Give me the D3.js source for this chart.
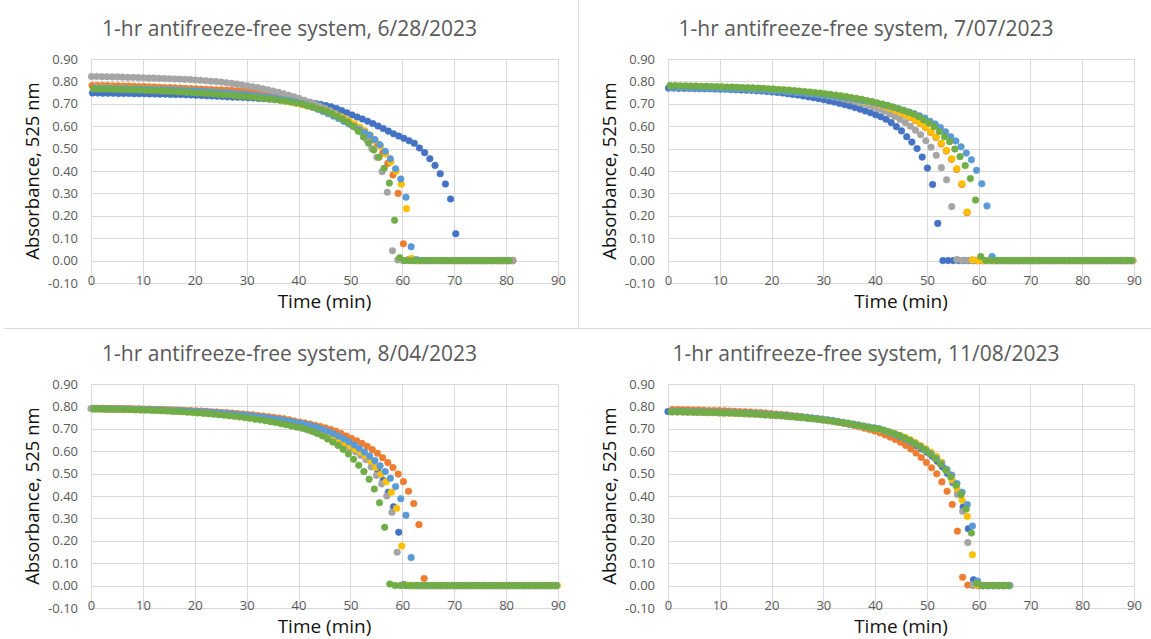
<!DOCTYPE html>
<html>
<head>
<meta charset="utf-8">
<script src="https://cdn.jsdelivr.net/npm/d3@7"></script>
<style>
  body { margin: 0; background: #fff; }
  svg { display: block; }
  text { font-family: "Open Sans", "Noto Sans", sans-serif; }
</style>
</head>
<body>
<svg id="chart" width="1151" height="639"></svg>
<script>
// Office palette, one colour per replicate run (drawn in this order, last on top)
const seriesColors = ["#4472C4", "#ED7D31", "#A5A5A5", "#FFC000", "#5B9BD5", "#70AD47"];

const panelTitles = [
  "1-hr antifreeze-free system, 6/28/2023",
  "1-hr antifreeze-free system, 7/07/2023",
  "1-hr antifreeze-free system, 8/04/2023",
  "1-hr antifreeze-free system, 11/08/2023"
];
const xAxisTitle = "Time (min)";
const yAxisTitle = "Absorbance, 525 nm";

const xTicks = [0, 10, 20, 30, 40, 50, 60, 70, 80, 90];
const xTickLabels = ["0", "10", "20", "30", "40", "50", "60", "70", "80", "90"];
const yTicks = [-0.1, 0, 0.1, 0.2, 0.3, 0.4, 0.5, 0.6, 0.7, 0.8, 0.9];
const yTickLabels = ["-0.10", "0.00", "0.10", "0.20", "0.30", "0.40", "0.50", "0.60", "0.70", "0.80", "0.90"];

// Readings are logged once a minute; each run starts at its own offset (min)
const SAMPLE_MIN = 1;

// ---- 6/28/2023 ----
const jun28Start = [0.3, 0.2, 0.1, 0.8, 0.7, 0.5];
const jun28Blue = [
  .748,.748,.747,.747,.747,.746,.746,.746,.745,.745,
  .745,.744,.744,.743,.743,.742,.741,.741,.740,.739,
  .738,.737,.736,.735,.734,.733,.731,.730,.729,.728,
  .727,.726,.724,.723,.721,.720,.718,.717,.715,.714,
  .712,.709,.705,.701,.697,.692,.687,.679,.670,.660,
  .650,.641,.632,.622,.612,.601,.590,.578,.566,.556,
  .546,.535,.524,.503,.482,.455,.425,.388,.342,.275,
  .120,0,0,0,0,0,0,0,0,0,0,0];
const jun28Orange = [
  .782,.782,.781,.781,.780,.780,.779,.779,.778,.777,
  .777,.776,.775,.774,.773,.772,.771,.770,.769,.768,
  .767,.766,.765,.764,.763,.762,.761,.760,.758,.757,
  .754,.751,.748,.745,.741,.737,.732,.727,.721,.715,
  .708,.701,.693,.685,.676,.667,.657,.646,.634,.621,
  .607,.592,.576,.559,.540,.520,.480,.434,.382,.300,
  .075,.005,0,0,0,0,0,0,0,0,
  0,0,0,0,0,0,0,0,0,0,0,0];
const jun28Gray = [
  .822,.822,.821,.821,.820,.820,.819,.818,.818,.817,
  .816,.815,.815,.814,.813,.812,.811,.810,.809,.808,
  .806,.805,.803,.801,.799,.797,.794,.791,.788,.784,
  .780,.776,.772,.767,.762,.757,.751,.745,.738,.731,
  .724,.716,.708,.699,.690,.680,.669,.657,.644,.630,
  .612,.594,.573,.540,.500,.461,.397,.305,.044,.003,
  0,0,0,0,0,0,0,0,0,0,
  0,0,0,0,0,0,0,0,0,0,0,0];
const jun28Yellow = [
  .772,.772,.771,.771,.770,.770,.769,.769,.768,.767,
  .767,.766,.765,.764,.763,.762,.761,.760,.759,.757,
  .756,.755,.753,.752,.750,.748,.746,.744,.742,.739,
  .737,.734,.731,.727,.724,.720,.716,.711,.706,.701,
  .695,.689,.683,.676,.669,.661,.653,.644,.635,.623,
  .610,.596,.580,.560,.535,.510,.476,.440,.399,.341,
  .232,.010,0,0,0,0,0,0,0,0,
  0,0,0,0,0,0,0,0,0,0,0];
const jun28LightBlue = [
  .770,.770,.770,.769,.769,.768,.768,.767,.767,.766,
  .766,.765,.764,.764,.763,.762,.761,.760,.759,.758,
  .757,.756,.754,.753,.751,.750,.748,.746,.744,.742,
  .739,.737,.734,.731,.728,.724,.720,.716,.712,.706,
  .700,.693,.685,.676,.666,.656,.645,.634,.622,.610,
  .598,.586,.573,.560,.540,.517,.488,.455,.410,.364,
  .283,.062,.005,0,0,0,0,0,0,0,
  0,0,0,0,0,0,0,0,0,0,0];
const jun28Green = [
  .766,.766,.765,.765,.764,.764,.763,.763,.762,.761,
  .760,.759,.758,.757,.756,.755,.754,.753,.751,.750,
  .748,.747,.745,.744,.742,.740,.739,.737,.735,.733,
  .731,.729,.726,.724,.721,.718,.715,.712,.708,.704,
  .700,.694,.688,.681,.673,.665,.655,.644,.632,.618,
  .600,.578,.552,.524,.494,.461,.412,.346,.180,.013,
  0,0,0,0,0,0,0,0,0,0,
  0,0,0,0,0,0,0,0,0,0,0];

// ---- 7/07/2023 ----
const jul07Start = [0.1, 0.75, 0.8, 0.8, 0.6, 0.4];
const jul07Blue = [
  .770,.770,.769,.769,.769,.768,.768,.767,.767,.766,
  .765,.765,.764,.763,.762,.761,.760,.758,.757,.755,
  .753,.751,.748,.745,.742,.739,.735,.731,.727,.723,
  .718,.713,.708,.702,.696,.690,.683,.676,.668,.660,
  .651,.642,.631,.616,.598,.579,.553,.529,.500,.462,
  .413,.340,.166,0,0,0,0,0,0,0,
  0,0,0,0,0,0,0,0,0,0,
  0,0,0,0,0,0,0,0,0,0,
  0,0,0,0,0,0,0,0,0,0];
const jul07Orange = [
  .777,.777,.776,.776,.775,.775,.774,.774,.773,.773,
  .772,.771,.770,.769,.768,.767,.766,.765,.764,.762,
  .761,.759,.757,.755,.753,.751,.749,.746,.744,.741,
  .738,.735,.731,.727,.723,.719,.714,.709,.704,.699,
  .693,.686,.678,.669,.660,.650,.639,.626,.611,.594,
  .572,.550,.521,.489,.452,.407,.340,.214,.003,0,
  0,0,0,0,0,0,0,0,0,0,
  0,0,0,0,0,0,0,0,0,0,
  0,0,0,0,0,0,0,0,0,0];
const jul07Gray = [
  .775,.775,.774,.774,.774,.773,.773,.772,.772,.771,
  .771,.770,.769,.768,.767,.766,.765,.764,.763,.761,
  .760,.758,.756,.754,.752,.750,.747,.745,.742,.739,
  .735,.731,.727,.722,.717,.712,.706,.700,.693,.685,
  .676,.666,.655,.643,.630,.616,.600,.582,.562,.535,
  .506,.470,.415,.361,.241,.005,0,0,0,0,
  0,0,0,0,0,0,0,0,0,0,
  0,0,0,0,0,0,0,0,0,0,
  0,0,0,0,0,0,0,0,0,0];
const jul07Yellow = [
  .778,.778,.777,.777,.776,.776,.775,.775,.774,.774,
  .773,.772,.771,.770,.769,.768,.767,.766,.765,.763,
  .762,.760,.758,.756,.754,.752,.750,.747,.745,.742,
  .739,.736,.732,.729,.725,.721,.716,.711,.706,.701,
  .695,.688,.680,.671,.662,.652,.641,.628,.613,.596,
  .575,.553,.524,.492,.455,.410,.343,.217,.003,0,
  0,0,0,0,0,0,0,0,0,0,
  0,0,0,0,0,0,0,0,0,0,
  0,0,0,0,0,0,0,0,0,0];
const jul07LightBlue = [
  .772,.772,.772,.771,.771,.770,.770,.769,.769,.768,
  .768,.767,.766,.766,.765,.764,.763,.762,.761,.759,
  .758,.757,.755,.753,.751,.749,.747,.745,.743,.740,
  .738,.735,.732,.729,.725,.722,.718,.714,.710,.705,
  .700,.695,.690,.684,.677,.670,.663,.655,.646,.636,
  .622,.610,.594,.575,.553,.534,.508,.480,.450,.403,
  .343,.244,.018,0,0,0,0,0,0,0,
  0,0,0,0,0,0,0,0,0,0,
  0,0,0,0,0,0,0,0,0,0];
const jul07Green = [
  .781,.781,.780,.780,.779,.779,.778,.778,.777,.777,
  .776,.775,.775,.774,.773,.772,.771,.770,.769,.767,
  .766,.764,.763,.761,.759,.757,.755,.753,.750,.748,
  .745,.742,.739,.736,.732,.728,.724,.720,.715,.710,
  .705,.699,.693,.686,.679,.671,.663,.654,.642,.628,
  .614,.598,.576,.553,.531,.498,.464,.424,.366,.270,
  .018,0,0,0,0,0,0,0,0,0,
  0,0,0,0,0,0,0,0,0,0,
  0,0,0,0,0,0,0,0,0,0];

// ---- 8/04/2023 ----
const aug04Start = [0.3, 0.2, 0.0, 0.9, 0.7, 0.6];
const aug04Blue = [
  .789,.789,.789,.788,.788,.788,.787,.787,.786,.786,
  .785,.785,.784,.783,.782,.781,.780,.779,.778,.777,
  .776,.774,.773,.771,.769,.767,.765,.763,.761,.758,
  .755,.752,.749,.745,.741,.737,.732,.727,.722,.717,
  .712,.706,.699,.692,.684,.675,.665,.655,.644,.632,
  .619,.605,.590,.570,.545,.512,.470,.417,.352,.238,
  .005,0,0,0,0,0,0,0,0,0,
  0,0,0,0,0,0,0,0,0,0,
  0,0,0,0,0,0,0,0,0,0];
const aug04Orange = [
  .792,.792,.792,.791,.791,.791,.790,.790,.789,.789,
  .788,.788,.787,.786,.786,.785,.784,.783,.782,.781,
  .780,.779,.778,.776,.775,.773,.772,.770,.768,.766,
  .764,.762,.759,.757,.754,.751,.748,.745,.740,.735,
  .730,.726,.721,.716,.710,.704,.697,.689,.679,.668,
  .657,.646,.635,.622,.607,.591,.571,.549,.527,.498,
  .464,.421,.366,.272,.032,0,0,0,0,0,
  0,0,0,0,0,0,0,0,0,0,
  0,0,0,0,0,0,0,0,0,0];
const aug04Gray = [
  .790,.790,.789,.789,.789,.788,.788,.787,.787,.786,
  .786,.785,.784,.783,.782,.781,.780,.779,.778,.777,
  .775,.774,.772,.770,.768,.766,.764,.762,.759,.757,
  .754,.751,.748,.744,.740,.736,.731,.725,.719,.714,
  .708,.701,.694,.686,.678,.669,.659,.648,.636,.624,
  .611,.597,.581,.562,.530,.492,.454,.400,.327,.149,
  .003,0,0,0,0,0,0,0,0,0,
  0,0,0,0,0,0,0,0,0,0,
  0,0,0,0,0,0,0,0,0,0];
const aug04Yellow = [
  .789,.789,.788,.788,.788,.787,.787,.786,.786,.785,
  .785,.784,.783,.782,.781,.780,.779,.778,.777,.775,
  .774,.772,.771,.769,.767,.765,.763,.760,.758,.755,
  .752,.749,.746,.742,.739,.735,.731,.726,.721,.716,
  .711,.705,.698,.691,.683,.672,.662,.651,.638,.624,
  .610,.596,.580,.555,.527,.498,.464,.417,.345,.177,
  .003,0,0,0,0,0,0,0,0,0,
  0,0,0,0,0,0,0,0,0,0,
  0,0,0,0,0,0,0,0,0,0];
const aug04LightBlue = [
  .790,.790,.790,.789,.789,.789,.788,.788,.787,.787,
  .786,.786,.785,.784,.783,.782,.781,.780,.779,.778,
  .777,.776,.774,.773,.771,.769,.767,.765,.763,.761,
  .758,.756,.753,.750,.747,.743,.740,.736,.732,.727,
  .723,.718,.712,.705,.697,.688,.678,.667,.655,.642,
  .628,.613,.596,.578,.558,.535,.509,.479,.442,.388,
  .314,.125,0,0,0,0,0,0,0,0,
  0,0,0,0,0,0,0,0,0,0,
  0,0,0,0,0,0,0,0,0,0];
const aug04Green = [
  .789,.789,.788,.788,.787,.787,.786,.786,.785,.784,
  .784,.783,.782,.781,.780,.778,.777,.776,.774,.773,
  .771,.769,.767,.765,.763,.761,.758,.756,.753,.750,
  .747,.743,.740,.736,.732,.728,.723,.718,.713,.708,
  .704,.697,.689,.679,.668,.655,.641,.626,.608,.588,
  .564,.537,.509,.475,.431,.370,.260,.007,0,0,
  0,0,0,0,0,0,0,0,0,0,
  0,0,0,0,0,0,0,0,0,0,
  0,0,0,0,0,0,0,0,0,0];

// ---- 11/08/2023 ----
const nov08Start = [0.0, 0.9, 0.9, 0.8, 0.8, 0.6];
const nov08Blue = [
  .777,.777,.777,.776,.776,.775,.775,.774,.774,.773,
  .772,.772,.771,.770,.769,.768,.767,.766,.764,.763,
  .761,.760,.758,.756,.754,.752,.750,.747,.745,.742,
  .739,.736,.732,.729,.725,.721,.717,.712,.708,.704,
  .700,.694,.687,.679,.671,.662,.651,.638,.624,.610,
  .595,.578,.555,.530,.500,.460,.414,.351,.254,.026,
  0,0,0,0,0,0,0];
const nov08Orange = [
  .786,.786,.785,.785,.784,.784,.783,.782,.782,.781,
  .780,.779,.778,.777,.776,.775,.773,.772,.770,.768,
  .766,.764,.762,.759,.757,.754,.751,.748,.745,.742,
  .738,.734,.730,.726,.721,.715,.709,.703,.697,.690,
  .682,.673,.663,.652,.640,.626,.610,.592,.572,.550,
  .526,.499,.463,.421,.362,.243,.037,.003,0,0,
  0,0,0,0,0,0];
const nov08Gray = [
  .775,.775,.775,.774,.774,.773,.773,.772,.772,.771,
  .770,.770,.769,.768,.767,.766,.765,.764,.762,.761,
  .759,.758,.756,.754,.752,.750,.748,.745,.743,.740,
  .737,.734,.730,.727,.723,.719,.715,.710,.706,.701,
  .696,.690,.684,.677,.669,.658,.646,.633,.619,.605,
  .590,.573,.550,.515,.468,.407,.332,.192,.003,0,
  0,0,0,0,0,0];
const nov08Yellow = [
  .776,.776,.776,.775,.775,.774,.774,.773,.773,.772,
  .771,.771,.770,.769,.768,.767,.766,.765,.763,.762,
  .760,.759,.757,.755,.753,.751,.749,.746,.744,.741,
  .738,.735,.731,.728,.724,.720,.716,.711,.707,.702,
  .697,.691,.685,.678,.670,.662,.651,.639,.625,.611,
  .595,.577,.550,.515,.475,.434,.381,.309,.138,.003,
  0,0,0,0,0,0];
const nov08LightBlue = [
  .778,.778,.778,.777,.777,.776,.776,.775,.775,.774,
  .773,.773,.772,.771,.770,.769,.768,.767,.765,.764,
  .762,.761,.759,.757,.755,.753,.751,.748,.746,.743,
  .740,.737,.733,.729,.725,.721,.717,.712,.708,.704,
  .700,.692,.684,.675,.665,.655,.644,.632,.619,.604,
  .587,.567,.543,.519,.493,.456,.417,.362,.266,.020,
  0,0,0,0,0,0];
const nov08Green = [
  .776,.776,.776,.775,.775,.774,.774,.773,.773,.772,
  .771,.771,.770,.769,.768,.767,.766,.765,.763,.762,
  .760,.759,.757,.755,.753,.751,.749,.746,.744,.741,
  .738,.735,.731,.728,.724,.720,.716,.711,.707,.702,
  .700,.694,.687,.679,.670,.660,.649,.636,.622,.606,
  .588,.567,.543,.516,.486,.448,.407,.342,.235,.010,
  0,0,0,0,0,0];

// ---- layout of the 2x2 grid (plot-area boxes in px) ----
const panels = [
  { title: panelTitles[0], box: [91, 558, 59, 283],
    starts: jun28Start, runs: [jun28Blue, jun28Orange, jun28Gray, jun28Yellow, jun28LightBlue, jun28Green] },
  { title: panelTitles[1], box: [668, 1134, 59, 283],
    starts: jul07Start, runs: [jul07Blue, jul07Orange, jul07Gray, jul07Yellow, jul07LightBlue, jul07Green] },
  { title: panelTitles[2], box: [91, 558, 384, 608],
    starts: aug04Start, runs: [aug04Blue, aug04Orange, aug04Gray, aug04Yellow, aug04LightBlue, aug04Green] },
  { title: panelTitles[3], box: [668, 1134, 384, 608],
    starts: nov08Start, runs: [nov08Blue, nov08Orange, nov08Gray, nov08Yellow, nov08LightBlue, nov08Green] }
];

const svg = d3.select("#chart");
const GRID = "#d9d9d9";
const LABEL = "#595959";

// thin frame lines separating the four charts
svg.append("line").attr("x1", 578.5).attr("x2", 578.5).attr("y1", 0).attr("y2", 328.5)
  .attr("stroke", "#dadada").attr("stroke-width", 1);
svg.append("line").attr("x1", 4).attr("x2", 1151).attr("y1", 328.5).attr("y2", 328.5)
  .attr("stroke", "#dadada").attr("stroke-width", 1);

panels.forEach(p => {
  const [left, right, top, bottom] = p.box;
  const x = d3.scaleLinear().domain([0, 90]).range([left, right]);
  const y = d3.scaleLinear().domain([-0.1, 0.9]).range([bottom, top]);
  const g = svg.append("g");

  // gridlines
  g.append("g").selectAll("line").data(yTicks).join("line")
    .attr("x1", left).attr("x2", right)
    .attr("y1", d => Math.round(y(d)) + 0.5).attr("y2", d => Math.round(y(d)) + 0.5)
    .attr("stroke", GRID).attr("stroke-width", 1);
  g.append("g").selectAll("line").data(xTicks).join("line")
    .attr("x1", d => Math.round(x(d)) + 0.5).attr("x2", d => Math.round(x(d)) + 0.5)
    .attr("y1", top).attr("y2", bottom)
    .attr("stroke", GRID).attr("stroke-width", 1);

  // value axis labels
  const ya = g.append("g").attr("transform", `translate(${left},0)`)
    .call(d3.axisLeft(y).tickValues(yTicks).tickFormat((d, i) => yTickLabels[i]).tickSize(0).tickPadding(13));
  ya.select(".domain").remove();
  ya.attr("font-family", null).attr("font-size", null);
  ya.selectAll("text").attr("fill", LABEL).style("font-size", "13px");

  // time axis labels, sitting on the bottom gridline
  const xa = g.append("g").attr("transform", `translate(0,${bottom})`)
    .call(d3.axisBottom(x).tickValues(xTicks).tickFormat((d, i) => xTickLabels[i]).tickSize(0));
  xa.select(".domain").remove();
  xa.attr("font-family", null).attr("font-size", null);
  xa.selectAll("text").attr("fill", LABEL).style("font-size", "13px")
    .attr("y", -3).attr("dy", "0.35em");

  // titles
  g.append("text").attr("x", (left + right) / 2 - 35).attr("y", top - 30)
    .attr("text-anchor", "middle").attr("dy", "0.35em")
    .attr("fill", LABEL).style("font-size", "21px").text(p.title);
  g.append("text").attr("x", (left + right) / 2).attr("y", bottom + 18)
    .attr("text-anchor", "middle").attr("dy", "0.35em")
    .attr("fill", "#111").style("font-size", "19px").text(xAxisTitle);
  g.append("text")
    .attr("transform", `translate(${left - 58},${(top + bottom) / 2}) rotate(-90)`)
    .attr("text-anchor", "middle").attr("dy", "0.35em")
    .attr("fill", "#111").style("font-size", "18.5px").text(yAxisTitle);

  // scatter markers, one group per run
  p.runs.forEach((vals, k) => {
    const pts = vals.map((v, i) => ({ t: p.starts[k] + i * SAMPLE_MIN, v }));
    g.append("g").selectAll("circle").data(pts).join("circle")
      .attr("cx", d => x(d.t)).attr("cy", d => y(d.v))
      .attr("r", 3.3)
      .attr("fill", seriesColors[k])
      .attr("stroke", seriesColors[k]).attr("stroke-width", 0.6);
  });
});
</script>
</body>
</html>
